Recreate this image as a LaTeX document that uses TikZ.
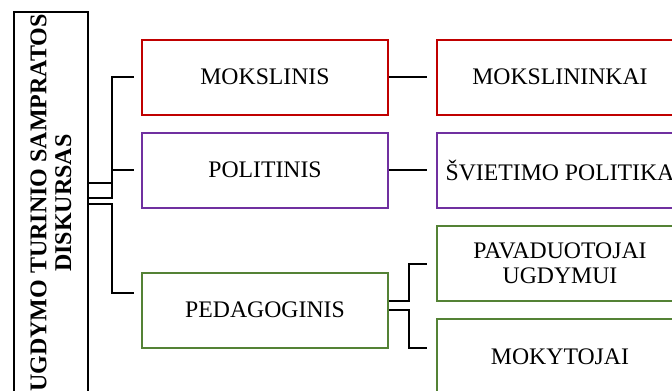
\documentclass[tikz,border=0pt]{standalone}
\usepackage{fontspec}
\setmainfont{Liberation Serif}

\definecolor{mokred}{HTML}{C00000}
\definecolor{polpurple}{HTML}{7030A0}
\definecolor{pedgreen}{HTML}{548235}

\begin{document}
\begin{tikzpicture}[x=0.75pt,y=-0.75pt,line width=1.5pt,node distance=221.25pt,
  main node/.style={draw,rectangle,minimum width=184.5pt,minimum height=56.25pt,
    inner sep=0pt,align=center,font=\fontsize{17.8}{19}\selectfont},
  elbow/.style={to path={-- ++(#1,0) |- (\tikztotarget)}}]

 \useasboundingbox (0,0) rectangle (672,390);
 \clip (0,0) rectangle (672,390);

 % rotated box, so .south is its right side
 \node[draw,rotate=90,minimum width=286.5pt,minimum height=55.5pt,inner sep=0pt,
   align=center,font=\bfseries\fontsize{18}{18.5}\selectfont] (diskursas) at (51,203)
   {UGDYMO TURINIO SAMPRATOS\\DISKURSAS};

 \node[main node,draw=mokred] (mokslinis) at (265,77) {MOKSLINIS};
 \node[main node,draw=polpurple] (politinis) at (265,170) {POLITINIS};
 \node[main node,draw=pedgreen] (pedagoginis) at (265,310) {PEDAGOGINIS};
 \node[main node,draw=mokred] (mokslininkai) [right of=mokslinis] {MOKSLININKAI};
 \node[main node,draw=polpurple] (politika) [right of=politinis] {ŠVIETIMO POLITIKA};
 \node[main node,draw=pedgreen] (pavaduotojai) at (560,263.5) {PAVADUOTOJAI\\UGDYMUI};
 \node[main node,draw=pedgreen] (mokytojai) at (560,356.5) {MOKYTOJAI};

 \path[every edge/.style={draw,line width=1.5pt,shorten >=5.25pt}]
    ([yshift=15pt]diskursas.south)    edge [elbow=23] (mokslinis)
    ([yshift=3.75pt]diskursas.south)  edge [elbow=23] (politinis)
    ([yshift=-0.75pt]diskursas.south) edge [elbow=23] ([yshift=12.75pt]pedagoginis.west);

 \path[every edge/.style={draw,line width=1.5pt,shorten >=6.75pt}]
    (mokslinis) edge (mokslininkai)
    (politinis) edge (politika)
    ([yshift=6.75pt]pedagoginis.east) edge [elbow=20] (pavaduotojai)
    (pedagoginis.east) edge [elbow=20] ([yshift=6.375pt]mokytojai.west);

\end{tikzpicture}
\end{document}
